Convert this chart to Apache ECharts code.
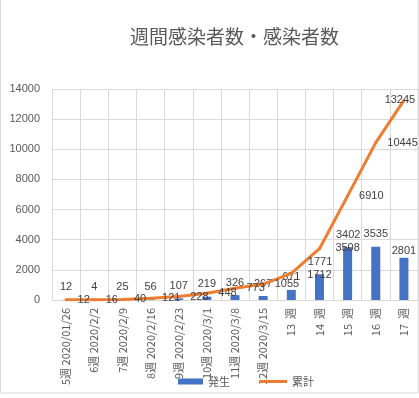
<!DOCTYPE html>
<html>
<head>
<meta charset="utf-8">
<script src="https://cdn.jsdelivr.net/npm/echarts@6/dist/echarts.min.js"></script>
<style>
html,body{margin:0;padding:0;background:#fff;}
#c{width:419px;height:398px;}
</style>
</head>
<body>
<div id="c"></div>
<script>
var categories = ['5週 2020/01/26','6週 2020/2/2','7週 2020/2/9','8週 2020/2/16','9週 2020/2/23','10週 2020/3/1','11週 2020/3/8','12週 2020/3/15','13  週','14  週','15  週','16  週','17  週'];
var weekly = [12, 4, 25, 56, 107, 219, 326, 267, 671, 1712, 3508, 3535, 2801];
var cumulative = [12, 16, 40, 121, 228, 448, 773, 1055, 1771, 3402, 6910, 10445, 13245];
var yTicks = {min: 0, max: 14000, interval: 2000};

var FONT = '"Noto Sans CJK JP", "Noto Sans", sans-serif';
var NUMFONT = 'Liberation Sans, Arial, sans-serif';
var lineLabelTweaks = {8: {offset: [5, -11]}, 9: {offset: [5, -14]}, 12: {position: 'inside', offset: [-4, 0]}};
var barLabelTweaks = {9: {offset: [0, 13]}, 10: {offset: [0, 13]}, 12: {offset: [0, 6]}};
function withTweaks(arr, tweaks) {
  return arr.map(function (v, i) {
    var d = {value: v};
    if (tweaks[i]) d.label = tweaks[i];
    return d;
  });
}

var chart = echarts.init(document.getElementById('c'));
chart.setOption({
  animation: false,
  backgroundColor: '#fff',
  textStyle: {fontFamily: FONT},
  title: {
    text: '週間感染者数・感染者数',
    left: 125, top: 22,
    textStyle: {fontSize: 19, fontWeight: 'normal', color: '#595959', fontFamily: FONT}
  },
  grid: {left: 52, right: 1, top: 89, bottom: 98, containLabel: false},
  legend: [{
    data: ['発生'], left: 178, top: 376, itemWidth: 25, itemHeight: 6, itemGap: 4,
    icon: 'rect', padding: 0,
    textStyle: {fontSize: 11, color: '#595959', fontFamily: FONT}
  }, {
    data: ['累計'], left: 259, top: 376, itemWidth: 28, itemHeight: 3, itemGap: 3,
    icon: 'rect', padding: 0,
    textStyle: {fontSize: 11, color: '#595959', fontFamily: FONT}
  }],
  xAxis: {
    type: 'category',
    data: categories,
    boundaryGap: true,
    axisLine: {show: true, lineStyle: {color: '#d9d9d9'}},
    axisTick: {show: false},
    splitLine: {show: true, lineStyle: {color: '#d9d9d9'}},
    axisLabel: {rotate: 90, interval: 0, margin: 8, fontSize: 11, color: '#595959', fontFamily: FONT}
  },
  yAxis: {
    type: 'value',
    min: yTicks.min, max: yTicks.max, interval: yTicks.interval,
    axisLine: {show: false},
    axisTick: {show: false},
    splitLine: {lineStyle: {color: '#d9d9d9'}},
    axisLabel: {margin: 12, fontSize: 11, color: '#595959', fontFamily: NUMFONT,
      formatter: function (v) { return String(v); }}
  },
  series: [{
    name: '発生',
    type: 'bar',
    data: withTweaks(weekly, barLabelTweaks),
    barWidth: 9,
    itemStyle: {color: '#4472C4'},
    label: {show: true, position: 'top', distance: 7, fontSize: 11, color: '#404040', fontFamily: NUMFONT}
  }, {
    name: '累計',
    type: 'line',
    data: withTweaks(cumulative, lineLabelTweaks),
    symbol: 'circle',
    symbolSize: 3,
    itemStyle: {color: '#ED7D31'},
    lineStyle: {color: '#ED7D31', width: 3},
    label: {show: true, position: 'right', distance: 10, fontSize: 11, color: '#404040', fontFamily: NUMFONT}
  }],
  graphic: [{
    type: 'rect',
    shape: {x: 0.5, y: -2, width: 417.5, height: 395},
    style: {fill: 'none', stroke: '#d9d9d9', lineWidth: 1},
    silent: true, z: -1
  }]
});
</script>
</body>
</html>
